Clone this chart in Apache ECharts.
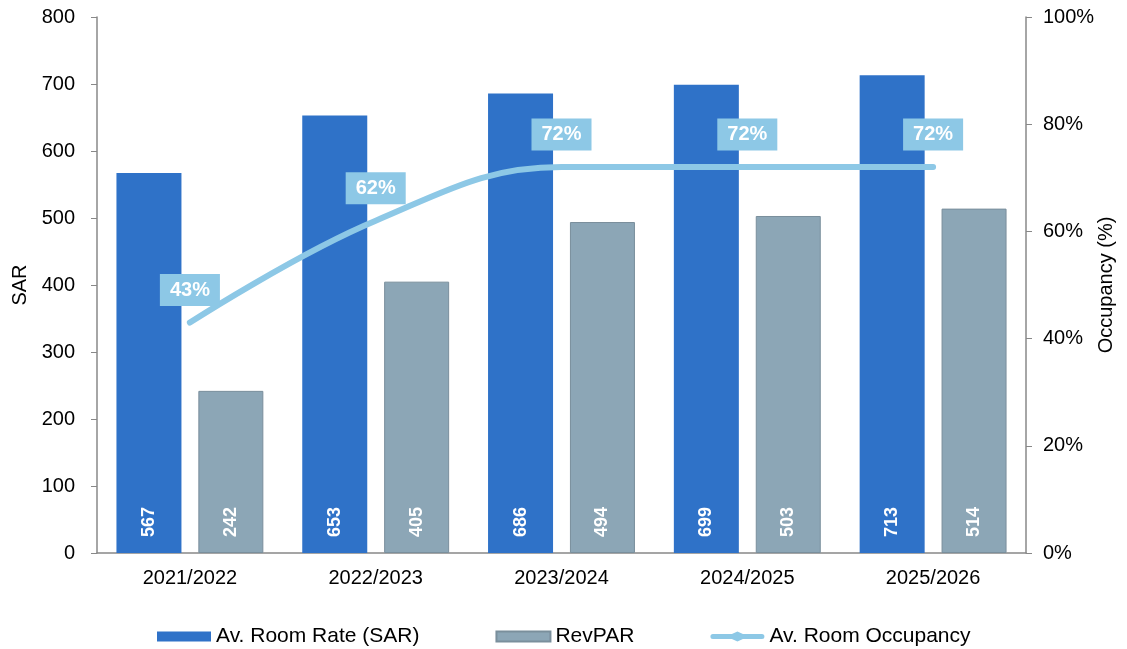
<!DOCTYPE html>
<html><head><meta charset="utf-8">
<script src="https://cdn.jsdelivr.net/npm/echarts@6/dist/echarts.min.js"></script>
<style>html,body{margin:0;padding:0;background:#fff}#c{width:1127px;height:649px}</style>
</head><body><div id="c"></div>
<script>
const categories = ['2021/2022','2022/2023','2023/2024','2024/2025','2025/2026'];
const roomRate = [567, 653, 686, 699, 713];
const revpar = [242, 405, 494, 503, 514];
const occupancy = [43, 62, 72, 72, 72];
const leftTicks = [0, 100, 200, 300, 400, 500, 600, 700, 800];

const font = 'Liberation Sans, Arial, sans-serif';
const chart = echarts.init(document.getElementById('c'));
const barLabel = {
  show: true, position: 'insideBottom', rotate: 90, distance: 16,
  color: '#fff', fontWeight: 'bold', fontSize: 18, fontFamily: font,
  align: 'left', verticalAlign: 'middle'
};
chart.setOption({
  animation: false,
  textStyle: { fontFamily: font },
  grid: { left: 97, right: 101, top: 17, bottom: 96, outerBoundsMode: 'none', containLabel: false },
  legend: {
    top: 621, left: 152, itemWidth: 54, itemHeight: 10, itemGap: 76,
    textStyle: { fontSize: 21, color: '#000', fontFamily: font },
    data: [
      { name: 'Av. Room Rate (SAR)', icon: 'rect' },
      { name: 'RevPAR', icon: 'rect' },
      { name: 'Av. Room Occupancy',
        icon: 'path://M3,2.5 L22,2.5 L27.5,0 L33,2.5 L52,2.5 A2.5,2.5 0 0 1 52,7.5 L33,7.5 L27.5,10 L22,7.5 L3,7.5 A2.5,2.5 0 0 1 3,2.5 Z' }
    ]
  },
  xAxis: {
    type: 'category', data: categories,
    axisLine: { lineStyle: { color: '#888', width: 1.5 } },
    axisTick: { show: false },
    axisLabel: { color: '#000', fontSize: 20, margin: 15 }
  },
  yAxis: [
    {
      type: 'value', min: leftTicks[0], max: leftTicks[leftTicks.length - 1], interval: 100,
      name: 'SAR', nameLocation: 'middle', nameGap: 67, nameRotate: 90, nameMoveOverlap: false,
      nameTextStyle: { color: '#000', fontSize: 20 },
      axisLine: { show: true, lineStyle: { color: '#888', width: 1.5 } },
      axisTick: { show: true, length: 6, lineStyle: { color: '#888' } },
      axisLabel: { color: '#000', fontSize: 20, margin: 22 },
      splitLine: { show: false }
    },
    {
      type: 'value', min: 0, max: 100, interval: 20, position: 'right',
      name: 'Occupancy (%)', nameLocation: 'middle', nameGap: 70, nameRotate: 90, nameMoveOverlap: false,
      nameTextStyle: { color: '#000', fontSize: 20 },
      axisLine: { show: true, lineStyle: { color: '#888', width: 1.5 } },
      axisTick: { show: true, length: 6, lineStyle: { color: '#888' } },
      axisLabel: { color: '#000', fontSize: 20, margin: 17, formatter: '{value}%' },
      splitLine: { show: false }
    }
  ],
  series: [
    {
      name: 'Av. Room Rate (SAR)', type: 'bar', data: roomRate,
      barWidth: 65, barGap: '26%',
      itemStyle: { color: '#2F72C8' },
      label: barLabel
    },
    {
      name: 'RevPAR', type: 'bar', data: revpar,
      barWidth: 65,
      itemStyle: { color: '#8CA6B6', borderColor: '#7a8f9c', borderWidth: 1 },
      label: barLabel
    },
    {
      name: 'Av. Room Occupancy', type: 'line', yAxisIndex: 1, data: occupancy,
      smooth: 0.4, showSymbol: true, symbol: 'diamond', symbolSize: 1,
      lineStyle: { color: '#8DC8E6', width: 6, cap: 'round' },
      itemStyle: { color: '#8DC8E6' },
      label: {
        show: true, position: 'top', distance: 16, formatter: '{c}%',
        backgroundColor: '#8DC8E6', color: '#fff', fontWeight: 'bold', fontSize: 20,
        lineHeight: 20, padding: [6, 10, 6, 10]
      }
    }
  ]
});
</script></body></html>
